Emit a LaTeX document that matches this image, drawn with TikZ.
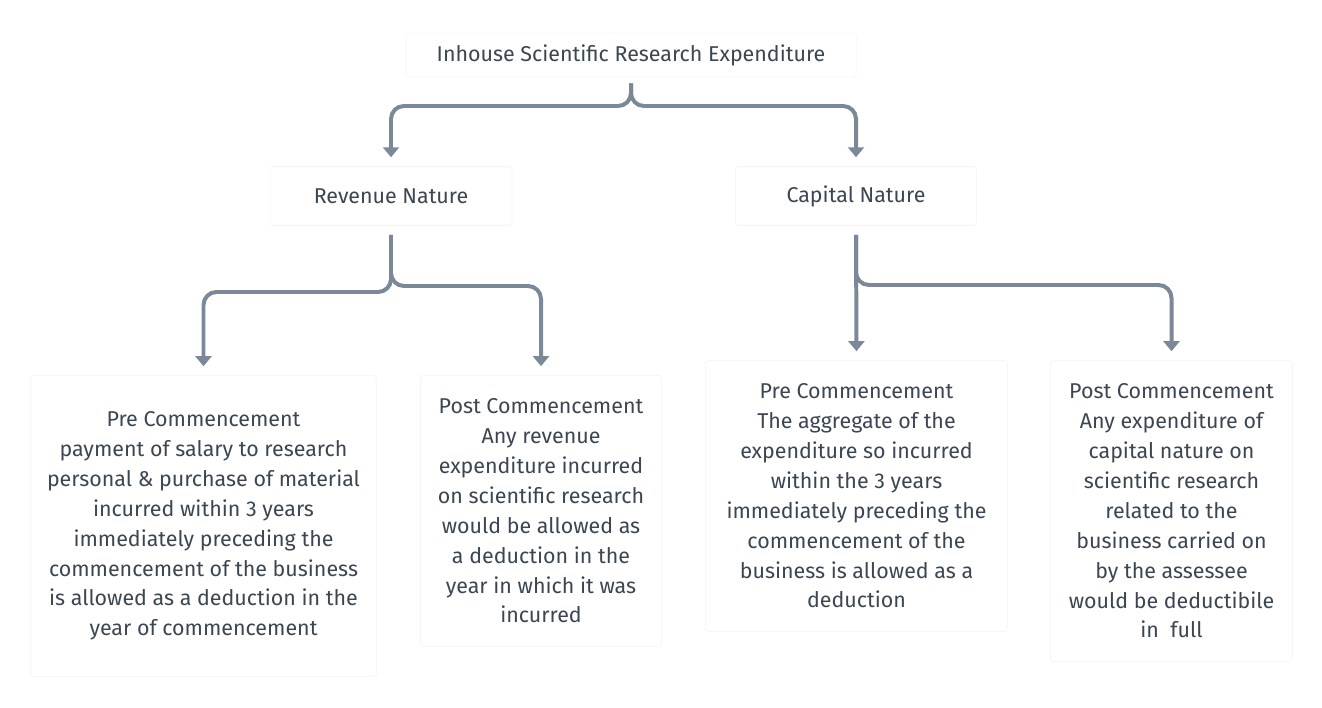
\documentclass[tikz,border=0pt]{standalone}
\usepackage{fontspec}
\setmainfont{Fira Sans}
\usetikzlibrary{arrows.meta}
\definecolor{linkgray}{HTML}{7A8897}
\definecolor{textgray}{HTML}{3B4652}
\begin{document}
\begin{tikzpicture}
[
    x=1bp, y=-1bp,
    box/.style={draw=black!3.5, line width=0.8pt, fill=white, rounded corners=3pt,
        align=center, text=textgray, inner sep=0pt,
        font=\fontsize{21.5}{30}\selectfont},
    link/.style={draw=linkgray, line width=4pt, rounded corners=13pt,
        -{Triangle[width=16pt,length=10pt]}, shorten >=9pt},
]
\useasboundingbox (0,0) rectangle (1322,707);
% boxes
\node[box, minimum width=452, minimum height=44] (top) at (631,55) {Inhouse Scientific Research Expenditure};
\node[box, minimum width=243, minimum height=59] (rev) at (391,196) {Revenue Nature};
\node[box, minimum width=242, minimum height=59] (cap) at (856,196) {Capital Nature};
\node[box, minimum width=347, minimum height=302] (pre1) at (203.5,526) {Pre Commencement\\
    payment of salary to research\\ personal \& purchase of material\\
    incurred within 3 years\\ immediately preceding the\\
    commencement of the business\\ is allowed as a deduction in the\\
    year of commencement};
\node[box, minimum width=242, minimum height=272] (post1) at (541,511) {Post Commencement\\
    Any revenue\\ expenditure incurred\\ on scientific research\\
    would be allowed as\\ a deduction in the\\ year in which it was\\ incurred};
\node[box, minimum width=303, minimum height=272] (pre2) at (856.5,496) {Pre Commencement\\
    The aggregate of the\\ expenditure so incurred\\ within the 3 years\\
    immediately preceding the\\ commencement of the\\
    business is allowed as a\\ deduction};
\node[box, minimum width=243, minimum height=302] (post2) at (1171.5,511) {Post Commencement\\
    Any expenditure of\\ capital nature on\\ scientific research\\
    related to the\\ business carried on\\ by the assessee\\
    would be deductibile\\ in\ \ full};
% connectors
\coordinate (topsplit) at (631,106);
\coordinate (revleft) at (391,292);
\coordinate (revright) at (391,286);
\coordinate (capsplit) at (856,285);
\draw[link, shorten <=6pt] (top.south) -- (topsplit) -| (rev.north);
\draw[link, shorten <=6pt] (top.south) -- (topsplit) -| (cap.north);
\draw[link, shorten <=9pt] (rev.south) -- (revleft) -| (pre1.north);
\draw[link, shorten <=9pt] (rev.south) -- (revright) -| (post1.north);
\draw[link, shorten <=9pt] (cap.south) -- (pre2.north);
\draw[link, shorten <=9pt] (cap.south) -- (capsplit) -| (post2.north);
\end{tikzpicture}
\end{document}
